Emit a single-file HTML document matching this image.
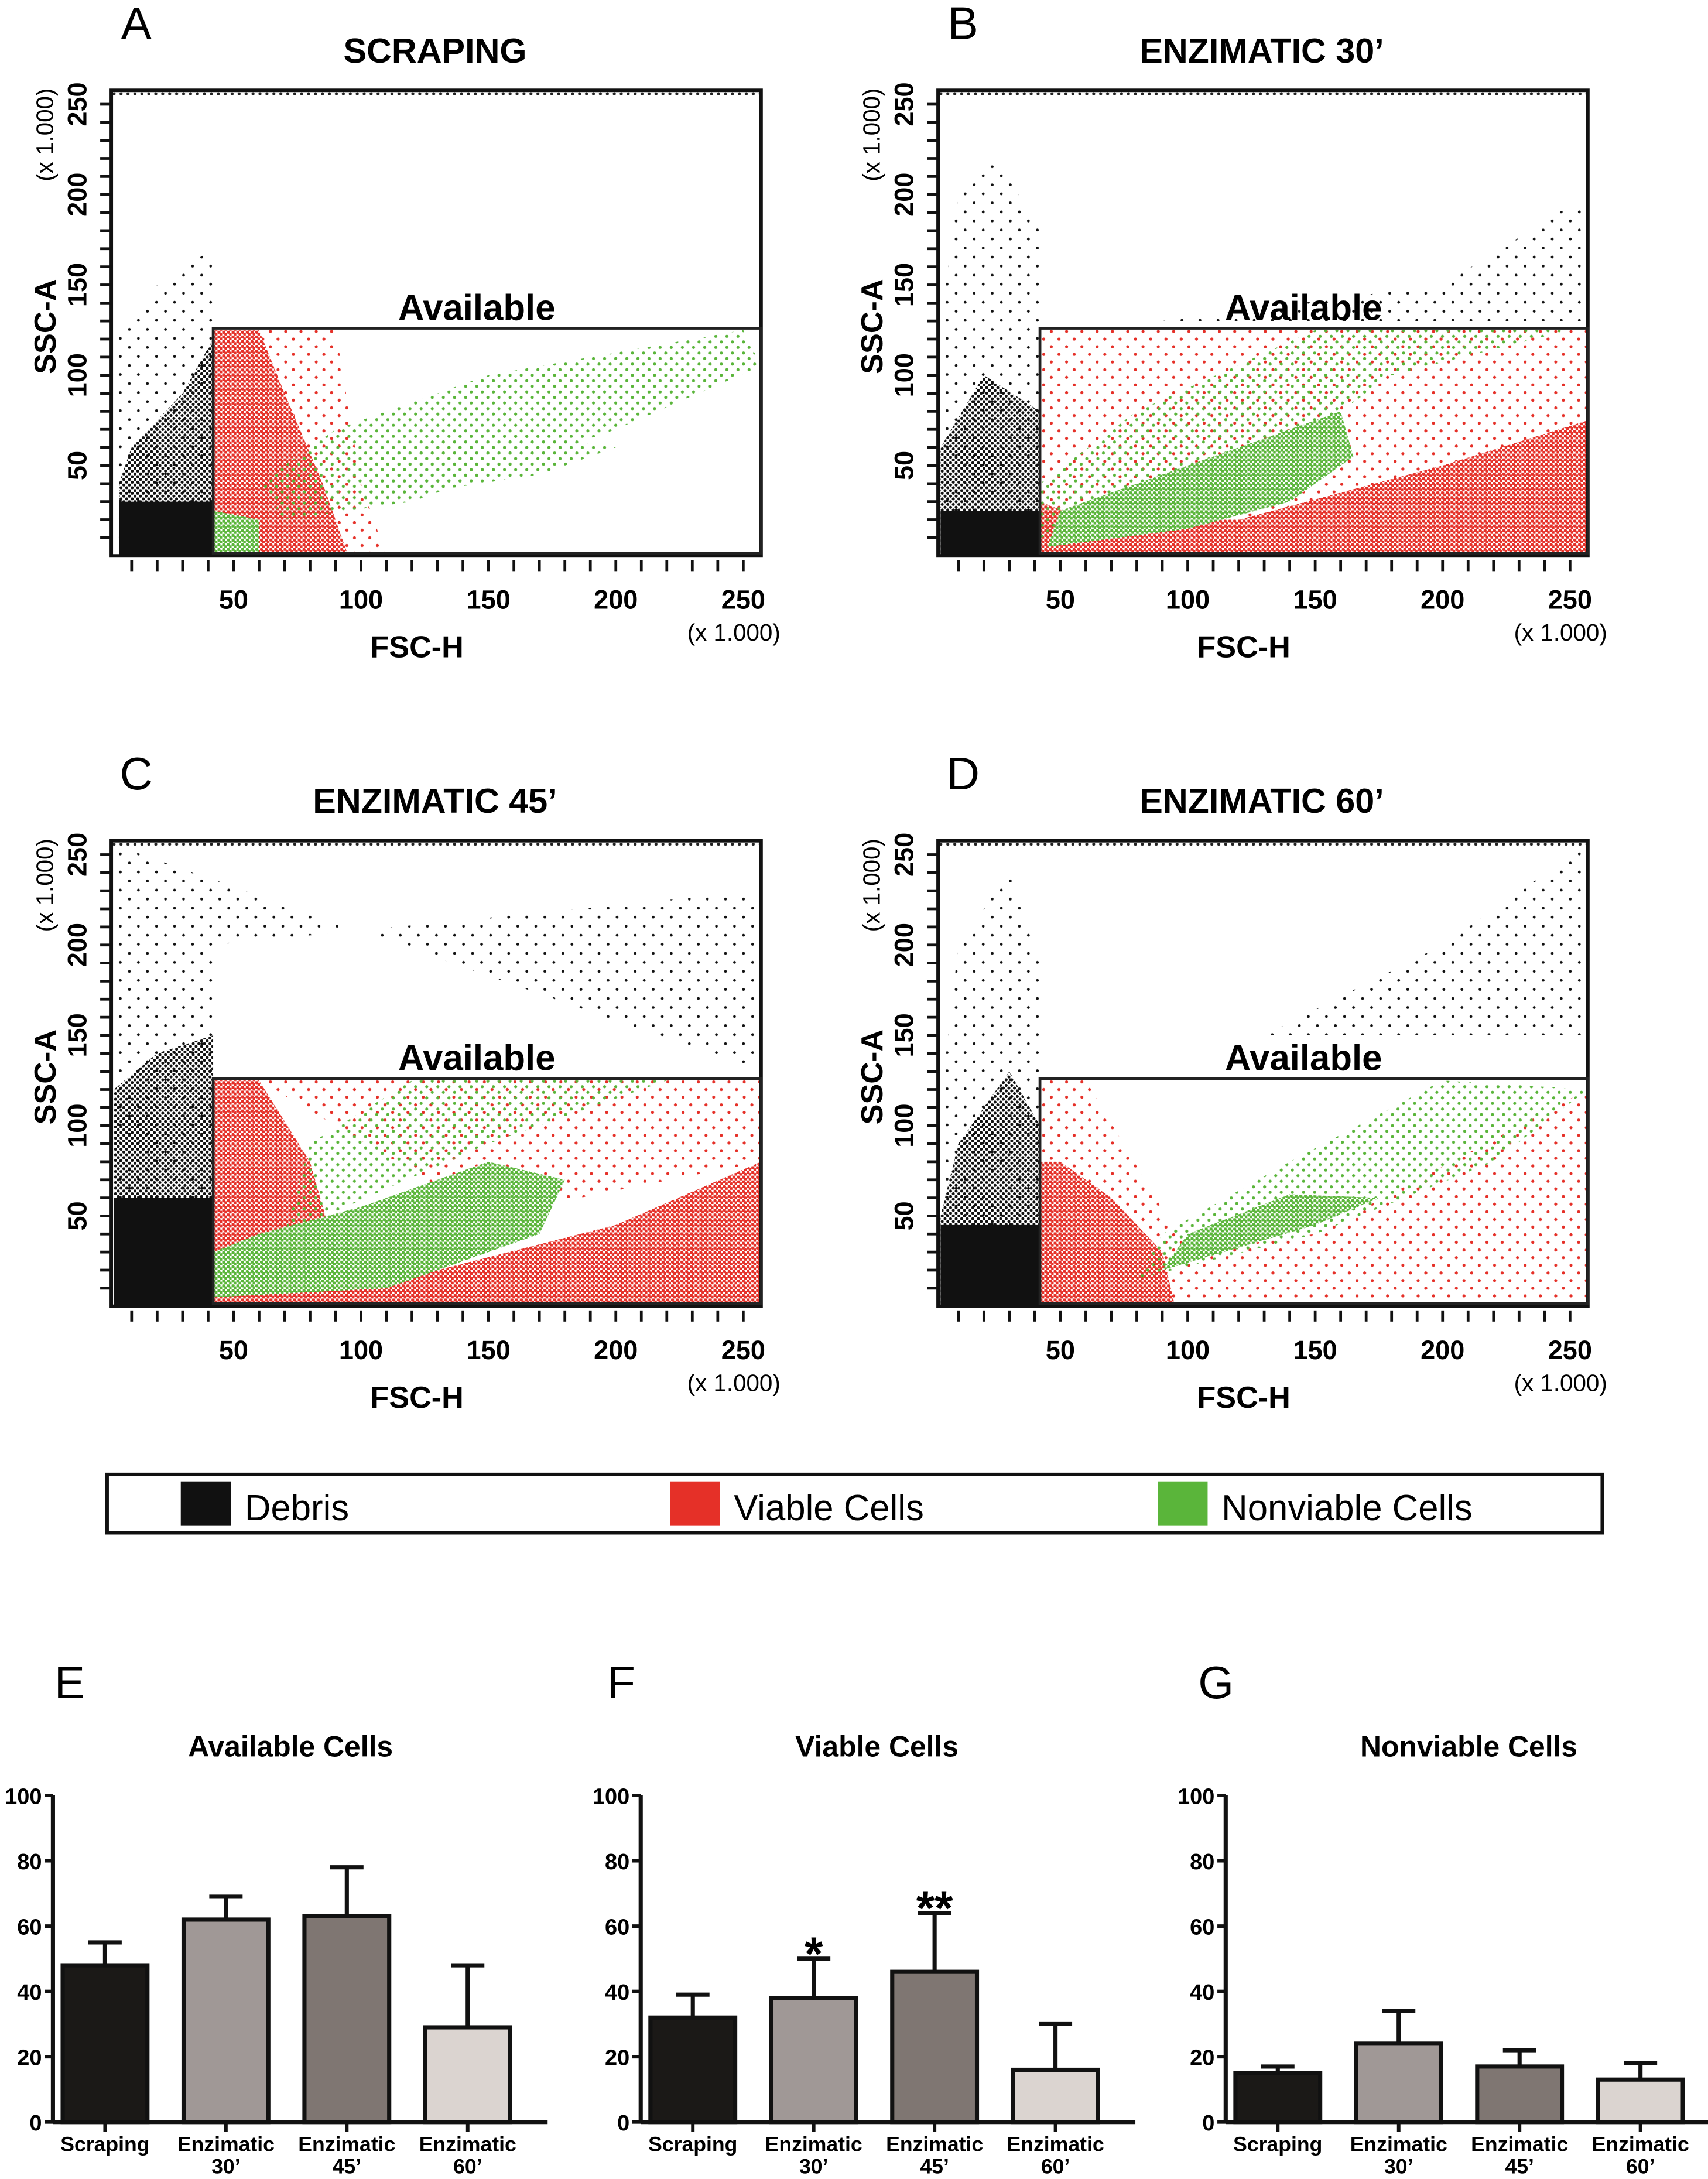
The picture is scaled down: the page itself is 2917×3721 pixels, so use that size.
<!DOCTYPE html>
<html><head><meta charset="utf-8">
<style>
html,body{margin:0;padding:0;background:#fff;}
svg{display:block;}
text{font-family:"Liberation Sans",Arial,sans-serif;}
</style></head>
<body>
<svg id="fig" xmlns="http://www.w3.org/2000/svg" width="2917" height="3721" viewBox="0 0 1229 1568">
<defs>
<pattern id="pBs" width="13" height="13" patternUnits="userSpaceOnUse"><circle cx="2" cy="3" r="1" fill="#111"/><circle cx="8.5" cy="9.5" r="1" fill="#111"/></pattern>
<pattern id="pBm" width="4" height="4" patternUnits="userSpaceOnUse"><circle cx="1" cy="1" r="1.1" fill="#111"/><circle cx="3" cy="3" r="1.1" fill="#111"/></pattern>
<pattern id="pRd" width="3.4" height="3.4" patternUnits="userSpaceOnUse"><rect width="3.4" height="3.4" fill="#fff"/><circle cx="1" cy="1" r="1.2" fill="#e53028"/><circle cx="2.7" cy="2.6" r="1.2" fill="#e53028"/></pattern>
<pattern id="pRs" width="11" height="11" patternUnits="userSpaceOnUse"><circle cx="2" cy="2" r="1.1" fill="#e53028"/><circle cx="7.5" cy="7.5" r="1.1" fill="#e53028"/></pattern>
<pattern id="pGd" width="3.4" height="3.4" patternUnits="userSpaceOnUse"><rect width="3.4" height="3.4" fill="#fff"/><circle cx="1" cy="1" r="1.2" fill="#5ab53a"/><circle cx="2.7" cy="2.6" r="1.2" fill="#5ab53a"/></pattern>
<pattern id="pGs" width="8" height="8" patternUnits="userSpaceOnUse"><circle cx="3" cy="2" r="1.1" fill="#5ab53a"/><circle cx="7" cy="6" r="1.1" fill="#5ab53a"/></pattern>
<pattern id="pTop" width="5" height="3" patternUnits="userSpaceOnUse"><circle cx="2" cy="1.5" r="1.1" fill="#222"/></pattern>
</defs>
</svg>
<script>
const NS='http://www.w3.org/2000/svg';
const svg=document.getElementById('fig');
function mk(tag,attrs,parent,txt){const e=document.createElementNS(NS,tag);for(const k in attrs)e.setAttribute(k,attrs[k]);if(txt!==undefined)e.textContent=txt;(parent||svg).appendChild(e);return e;}

const panelLetters=['A','B','C','D'];
const panelTitles=['SCRAPING','ENZIMATIC 30\u2019','ENZIMATIC 45\u2019','ENZIMATIC 60\u2019'];
const panelOffsets=[[0,0],[595,0],[0,540],[595,540]];
const xTicks=[50,100,150,200,250];
const yTicks=[50,100,150,200,250];
const gateX=[42,257];
const gateY=[0,126];
const regionsA=[
 ['pBs',[[2,0],[42,0],[42,170],[20,150],[2,120]]],
 ['pBm',[[5,0],[42,0],[42,120],[30,90],[10,60],[5,40]]],
 ['solidB',[[5,0],[42,0],[42,30],[5,30]]],
 ['pRs',[[42,0],[110,0],[100,40],[90,125],[42,125]]],
 ['pRd',[[42,0],[95,0],[85,40],[70,90],[60,125],[42,125]]],
 ['pGs',[[70,20],[120,30],[200,70],[260,105],[250,125],[150,100],[90,70],[60,40]]],
 ['pGd',[[42,0],[60,0],[60,20],[42,25]]],
 ['pGs',[[100,30],[170,45],[200,60],[150,70],[100,55]]]
];
const regionsB=[
 ['pBs',[[2,0],[42,0],[42,180],[25,220],[10,200],[2,120]]],
 ['pBs',[[90,130],[200,150],[262,200],[262,130]]],
 ['pBm',[[3,0],[42,0],[42,80],[20,100],[3,60]]],
 ['solidB',[[3,0],[42,0],[42,25],[3,25]]],
 ['pRs',[[42,0],[262,0],[262,125],[42,125]]],
 ['pRd',[[42,0],[262,0],[262,75],[200,50],[120,20],[60,20],[42,30]]],
 ['pGs',[[42,10],[120,40],[180,100],[250,125],[150,125],[80,80],[42,40]]],
 ['pGd',[[45,5],[100,15],[140,30],[165,55],[160,80],[130,65],[90,45],[50,25]]]
];
const regionsC=[
 ['pBs',[[2,0],[42,0],[42,200],[262,230],[262,130],[2,258]]],
 ['pBm',[[3,0],[42,0],[42,150],[20,140],[3,120]]],
 ['solidB',[[3,0],[42,0],[42,60],[3,60]]],
 ['pRd',[[42,0],[262,0],[262,80],[200,45],[130,20],[90,30],[80,80],[60,125],[42,125]]],
 ['pRs',[[60,125],[262,125],[262,80],[150,50]]],
 ['pGs',[[70,40],[150,90],[220,125],[120,125],[80,90]]],
 ['pGd',[[42,5],[110,10],[170,40],[180,70],[150,80],[100,55],[60,40],[42,30]]]
];
const regionsD=[
 ['pBs',[[2,0],[42,0],[42,190],[30,240],[10,200],[2,100]]],
 ['pBs',[[130,150],[262,150],[262,260],[200,200]]],
 ['pBm',[[3,0],[42,0],[42,100],[30,130],[10,90],[3,50]]],
 ['solidB',[[3,0],[42,0],[42,45],[3,45]]],
 ['pRs',[[42,0],[262,0],[262,120],[150,40],[100,30],[60,125],[42,125]]],
 ['pRd',[[42,0],[95,0],[90,30],[70,60],[50,80],[42,80]]],
 ['pGs',[[80,15],[150,40],[220,80],[262,120],[200,125],[140,80],[90,40]]],
 ['pGd',[[90,20],[150,45],[175,60],[140,62],[100,40]]]
];
const allRegions=[regionsA,regionsB,regionsC,regionsD];

function px(v){return 168+(Math.min(v,257)-50)*1.834;}
function py(v){return 400-Math.min(v,256)*1.3;}

for(let p=0;p<4;p++){
  const [dx,dy]=panelOffsets[p];
  const g=mk('g',{transform:`translate(${dx},${dy})`});
  
  
  const l=mk('text',{x:98,y:28,'font-size':33,'text-anchor':'middle'},g,panelLetters[p]);
  
  
  const t=mk('text',{x:313,y:45,'font-size':25,'font-weight':'bold','text-anchor':'middle'},g,panelTitles[p]);
  
  
  const cp=mk('g',{},g);
  
  
  for(const [fill,poly] of allRegions[p]){
    const pts=poly.map(([a,b])=>`${px(a).toFixed(1)},${py(b).toFixed(1)}`).join(' ');
    const f=fill==='solidB'?'#111':`url(#${fill})`;
    const pg=mk('polygon',{points:pts,fill:f},cp);
    
    
  }
  const band=mk('rect',{x:80,y:66,width:468,height:3,fill:'url(#pTop)'},g);
  
  
  const fr=mk('rect',{x:80,y:65,width:px(257)-80,height:335,fill:'none',stroke:'#111','stroke-width':2.5},g);
  
  
  const gt=mk('rect',{x:px(gateX[0]),y:py(gateY[1]),width:px(gateX[1])-px(gateX[0]),height:py(gateY[0])-py(gateY[1])-2,fill:'none',stroke:'#222','stroke-width':2},g);
  
  
  const gl=mk('text',{x:343,y:py(gateY[1])-6,'font-size':26,'font-weight':'bold','text-anchor':'middle'},g,'Available');
  
  
  for(let v=10;v<=250;v+=10){
    const tk=mk('line',{x1:px(v),x2:px(v),y1:403,y2:411,stroke:'#111','stroke-width':2},g);
    
    
  }
  for(const v of xTicks){
    const tl=mk('text',{x:px(v),y:438,'font-size':19,'font-weight':'bold','text-anchor':'middle'},g,String(v));
    
    
  }
  for(let v=10;v<=250;v+=10){
    const tk=mk('line',{x1:72,x2:80,y1:py(v),y2:py(v),stroke:'#111','stroke-width':2},g);
    
    
  }
  for(const v of yTicks){
    const tl=mk('text',{x:0,y:0,'font-size':19,'font-weight':'bold','text-anchor':'middle',transform:`translate(62,${py(v)}) rotate(-90)`},g,String(v));
    
    
  }
  const yt=mk('text',{x:0,y:0,'font-size':22,'font-weight':'bold','text-anchor':'middle',transform:'translate(40,235) rotate(-90)'},g,'SSC-A');
  
  
  const yu=mk('text',{x:0,y:0,'font-size':17,'text-anchor':'middle',transform:'translate(38,97) rotate(-90)'},g,'(x 1.000)');
  
  
  const xt=mk('text',{x:300,y:473,'font-size':22,'font-weight':'bold','text-anchor':'middle'},g,'FSC-H');
  
  
  const xu=mk('text',{x:528,y:461,'font-size':17,'text-anchor':'middle'},g,'(x 1.000)');
  
  
}

const leg=mk('g',{});


const lb=mk('rect',{x:77,y:1061,width:1076,height:42,fill:'#fff',stroke:'#111','stroke-width':2.5},leg);


const legendItems=[['Debris','#111',130],['Viable Cells','#e53028',482],['Nonviable Cells','#5ab53a',833]];
for(const [lab,col,x] of legendItems){
  const e=mk('g',{},leg);
  
  
  const s=mk('rect',{x:x,y:1066,width:36,height:32,fill:col},e);
  
  
  const tx=mk('text',{x:x+46,y:1094,'font-size':26},e,lab);
  
  
}

const barCategories=['Scraping','Enzimatic|30\u2019','Enzimatic|45\u2019','Enzimatic|60\u2019'];
const barColors=['#1b1917','#a09896','#7f7672','#dbd4d0'];
const availableMeans=[48,62,63,29];
const availableErr=[7,7,15,19];
const viableMeans=[32,38,46,16];
const viableErr=[7,12,18,14];
const nonviableMeans=[15,24,17,13];
const nonviableErr=[2,10,5,5];
const barTicks=[0,20,40,60,80,100];
const viableStars=['','*','**',''];
const charts=[
 {letter:'E',title:'Available Cells',axisX:38,means:availableMeans,err:availableErr,stars:['','','',''],lx:50,tx:209},
 {letter:'F',title:'Viable Cells',axisX:461,means:viableMeans,err:viableErr,stars:viableStars,lx:447,tx:631},
 {letter:'G',title:'Nonviable Cells',axisX:882,means:nonviableMeans,err:nonviableErr,stars:['','','',''],lx:875,tx:1057}
];
function by(v){return 1527-v*2.35;}
for(const c of charts){
  const g=mk('g',{});
  
  
  const l=mk('text',{x:c.lx,y:1222,'font-size':33,'text-anchor':'middle'},g,c.letter);
  
  
  const t=mk('text',{x:c.tx,y:1264,'font-size':21,'font-weight':'bold','text-anchor':'middle'},g,c.title);
  
  
  const ax=c.axisX;
  const bw=61, gap=87;
  const x0=ax+7;
  c.means.forEach((m,i)=>{
    const bx=x0+i*gap;
    const cx=bx+bw/2;
    const top=by(m+c.err[i]);
    const el=mk('line',{x1:cx,x2:cx,y1:top,y2:by(m),stroke:'#111','stroke-width':3},g);
    
    
    const cap=mk('line',{x1:cx-12,x2:cx+12,y1:top,y2:top,stroke:'#111','stroke-width':3},g);
    
    
    const r=mk('rect',{x:bx,y:by(m),width:bw,height:by(0)-by(m),fill:barColors[i],stroke:'#111','stroke-width':3},g);
    
    
    if(c.stars[i]){
      const s=mk('text',{x:cx,y:top+8,'font-size':34,'font-weight':'bold','text-anchor':'middle'},g,c.stars[i]);
      
      
    }
    const tk=mk('line',{x1:cx,x2:cx,y1:by(0),y2:by(0)+7,stroke:'#111','stroke-width':2.5},g);
    
    
    const parts=barCategories[i].split('|');
    parts.forEach((pt,j)=>{
      const tl=mk('text',{x:cx,y:by(0)+21+j*16,'font-size':15,'font-weight':'bold','text-anchor':'middle'},g,pt);
      
      
    });
  });
  const ya=mk('line',{x1:ax,x2:ax,y1:by(100),y2:by(0),stroke:'#111','stroke-width':3},g);
  
  
  const xa=mk('line',{x1:ax,x2:ax+4*gap+8,y1:by(0),y2:by(0),stroke:'#111','stroke-width':3},g);
  
  
  for(const v of barTicks){
    const tk=mk('line',{x1:ax-6,x2:ax,y1:by(v),y2:by(v),stroke:'#111','stroke-width':2.5},g);
    
    
    const tl=mk('text',{x:ax-8,y:by(v)+6,'font-size':16,'font-weight':'bold','text-anchor':'end'},g,String(v));
    
    
  }
}
</script>
</body></html>
